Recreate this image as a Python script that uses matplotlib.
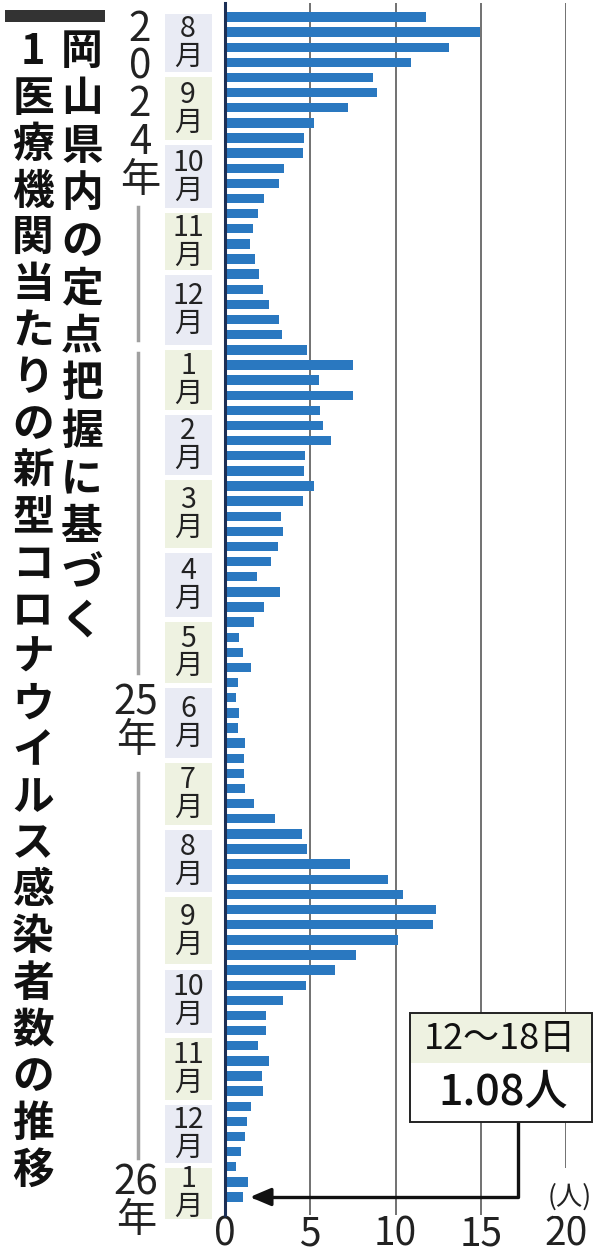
import matplotlib
matplotlib.use("Agg")
import matplotlib.pyplot as plt
import matplotlib.transforms as mtransforms
from matplotlib.patches import Rectangle
from matplotlib.lines import Line2D
import numpy as np

JP = ['Noto Sans CJK JP', 'DejaVu Sans']
plt.rcParams['font.family'] = JP

# weekly COVID-19 cases per sentinel site in Okayama, Aug 2024 -> Jan 12-18 2026
cases = [11.78, 14.94, 13.14, 10.88, 8.69, 8.89, 7.19, 5.23, 4.63, 4.59,
         3.46, 3.16, 2.29, 1.95, 1.62, 1.46, 1.74, 2.01, 2.21, 2.60,
         3.16, 3.32, 4.79, 7.52, 5.53, 7.52, 5.57, 5.72, 6.19, 4.69,
         4.63, 5.21, 4.55, 3.28, 3.42, 3.09, 2.68, 1.86, 3.22, 2.29,
         1.72, 0.84, 1.07, 1.52, 0.78, 0.64, 0.80, 0.74, 1.17, 1.11,
         1.11, 1.17, 1.70, 2.93, 4.53, 4.79, 7.32, 9.57, 10.45, 12.36,
         12.21, 10.16, 7.71, 6.48, 4.73, 3.42, 2.40, 2.40, 1.91, 2.58,
         2.19, 2.25, 1.50, 1.31, 1.17, 0.92, 0.63, 1.37, 1.08]

months = ['8', '9', '10', '11', '12', '1', '2', '3', '4', '5', '6', '7',
          '8', '9', '10', '11', '12', '1']
# month boundaries in week-index units
month_edges = [-0.4, 3.8, 8.3, 12.8, 16.9, 21.85, 26.15, 30.45, 35.25, 39.8,
               44.2, 49.15, 53.55, 58.0, 62.8, 67.3, 71.75, 75.9, 79.6]

xticks = [0, 5, 10, 15, 20]
latest_label = '12〜18日'
latest_value = '1.08人'
title_right = '岡山県内の定点把握に基づく'
title_left = '1医療機関当たりの新型コロナウイルス感染者数の推移'

W, H = 600, 1258
fx = lambda px: px / W
fy = lambda py: 1 - py / H

fig = plt.figure(figsize=(W / 100, H / 100), dpi=100)
ax = fig.add_axes([fx(225), fy(1215), (566 - 225) / W, (1215 - 3) / H])

n = len(cases)
ypos = np.arange(n)
ax.barh(ypos, cases, height=0.62, color='#2a78c0', zorder=2)
ax.set_ylim(n - 1 + 1.19, -0.925)
ax.set_xlim(0, 20)
ax.set_xticks(xticks)
ax.set_xticklabels([str(t) for t in xticks], fontsize=28, color='#222')
ax.set_yticks([])
ax.tick_params(axis='x', length=0, pad=0)
ax.xaxis.grid(True, color='#4a4a4a', lw=1.1)
ax.set_axisbelow(True)
for s in ['top', 'right', 'bottom']:
    ax.spines[s].set_visible(False)
ax.spines['left'].set_color('#1c2f55')
ax.spines['left'].set_linewidth(2.2)
ax.spines['left'].set_zorder(3)

# month label boxes
trans = mtransforms.blended_transform_factory(fig.transFigure, ax.transData)
gap = 0.17
for i, m in enumerate(months):
    top = month_edges[i] + gap
    bot = month_edges[i + 1] - gap
    fc = '#e9ebf4' if i % 2 == 0 else '#eef2e1'
    ax.add_patch(Rectangle((fx(165), top), fx(212) - fx(165), bot - top,
                           transform=trans, facecolor=fc, edgecolor='none',
                           clip_on=False))
    ax.text(fx(188), (top + bot) / 2, m + '\n月', transform=trans,
            ha='center', va='center', fontsize=20.5, linespacing=0.9,
            color='#222', clip_on=False)

# year labels and brackets
fig.text(fx(140), fy(105), '2\n0\n2\n4\n年', ha='center', va='center',
         fontsize=29, linespacing=0.9, color='#222')
fig.text(fx(136), fy(722), '25\n年', ha='center', va='center', fontsize=29,
         linespacing=0.88, color='#222')
fig.text(fx(136), fy(1202), '26\n年', ha='center', va='center', fontsize=29,
         linespacing=0.88, color='#222')
for y0, y1 in [(207, 340), (353, 673), (773, 1158)]:
    fig.add_artist(Line2D([fx(138)] * 2, [fy(y0), fy(y1)], color='#a0a0a0', lw=2.5))

# title (vertical)
fig.add_artist(Rectangle((fx(5), fy(22)), fx(100), 12 / H, facecolor='#333',
                         edgecolor='none'))
for k, ch in enumerate(title_right):
    fig.text(fx(82), fy(52 + 47.5 * k), ch, ha='center', va='center', fontsize=30,
             weight='bold', color='#111')
for k, ch in enumerate(title_left):
    fig.text(fx(33), fy(52 + 46.6 * k), ch, ha='center', va='center', fontsize=30,
             weight='bold', color='#111')

# callout box for the latest week
fig.add_artist(Rectangle((fx(410), fy(1063)), (592 - 410) / W, 50 / H,
                         facecolor='#eef2e1', edgecolor='none', zorder=4))
fig.add_artist(Rectangle((fx(410), fy(1122)), (592 - 410) / W, 59 / H,
                         facecolor='white', edgecolor='none', zorder=4))
fig.add_artist(Rectangle((fx(410), fy(1122)), (592 - 410) / W, 109 / H,
                         facecolor='none', edgecolor='#222', lw=1.4, zorder=5))
fig.text(fx(500), fy(1039), latest_label, ha='center', va='center', fontsize=26,
         color='#111', zorder=6)
fig.text(fx(503), fy(1092), latest_value, ha='center', va='center', fontsize=31,
         weight='medium', color='#111', zorder=6)
ax.annotate('', xy=(cases[-1] + 0.38, n - 1), xycoords='data',
            xytext=(fx(518), fy(1122)), textcoords='figure fraction',
            arrowprops=dict(arrowstyle='-|>,head_length=0.85,head_width=0.36',
                            mutation_scale=15,
                            connectionstyle='angle,angleA=90,angleB=0,rad=0',
                            color='#111', lw=2.4, shrinkA=0, shrinkB=0),
            annotation_clip=False, zorder=5)

# unit label
fig.add_artist(Rectangle((fx(553), fy(1216)), 32 / W, 48 / H, facecolor='white',
                         edgecolor='none', zorder=4))
fig.text(fx(570), fy(1197), '(人)', ha='center', va='center', fontsize=19,
         color='#222', zorder=6)

fig.savefig('out.png', dpi=100, facecolor='white')
